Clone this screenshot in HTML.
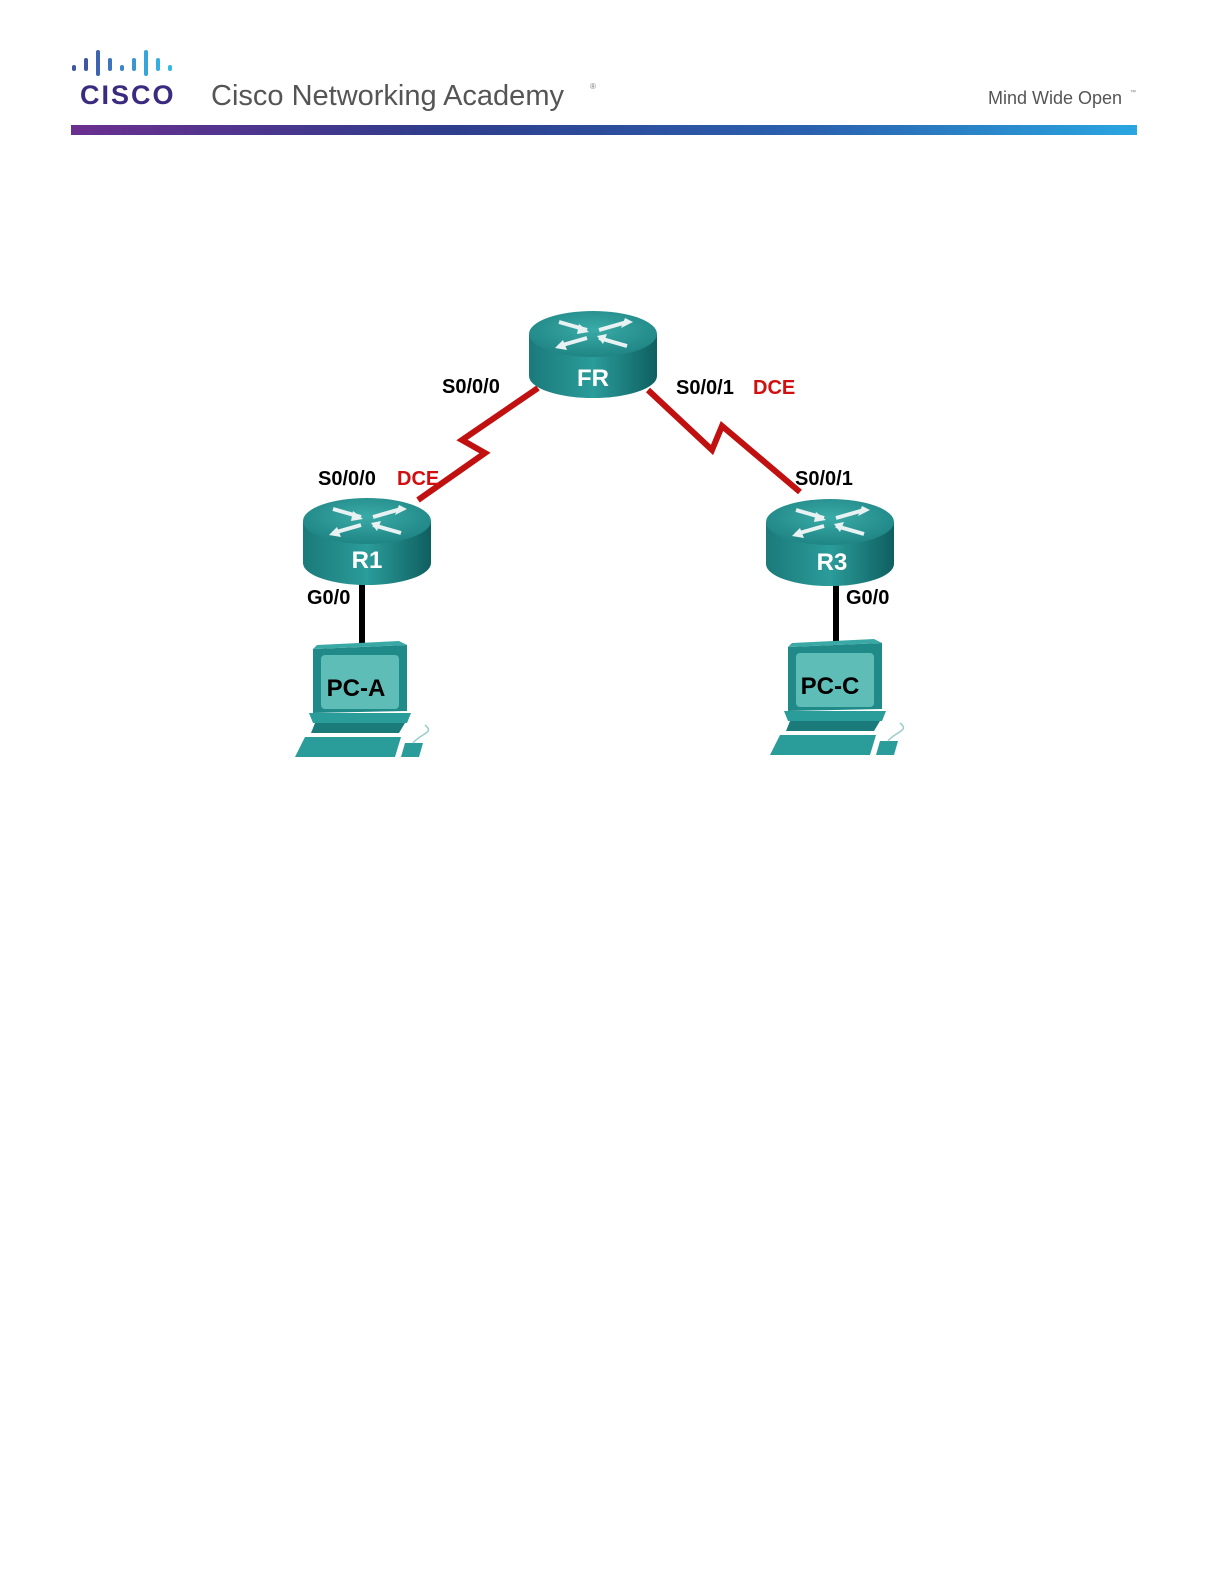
<!DOCTYPE html>
<html style="margin:0;padding:0;overflow:hidden"><head><meta charset="utf-8"><style>
html,body{margin:0;padding:0;background:#fff;width:1224px;height:1584px;overflow:hidden;font-family:"Liberation Sans",sans-serif}
svg{display:block;position:absolute;left:0;top:0}
</style></head><body>
<svg width="1224" height="1584" viewBox="0 0 1224 1584" xmlns="http://www.w3.org/2000/svg">
<defs>
<linearGradient id="bar" x1="0" x2="1"><stop offset="0" stop-color="#6b2f8f"/><stop offset="0.35" stop-color="#2e3d8c"/><stop offset="0.7" stop-color="#2a62b0"/><stop offset="1" stop-color="#2aa6e0"/></linearGradient>
<linearGradient id="side" x1="0" x2="1"><stop offset="0" stop-color="#1b7a7a"/><stop offset="0.5" stop-color="#2a9c9a"/><stop offset="1" stop-color="#0f5f60"/></linearGradient>
<radialGradient id="top" cx="0.5" cy="0.4" r="0.6"><stop offset="0" stop-color="#3aaba8"/><stop offset="1" stop-color="#1f8584"/></radialGradient>
<g id="rt">
<path d="M0,24 L0,66 A64,22 0 0 0 128,66 L128,24 Z" fill="url(#side)"/>
<ellipse cx="64" cy="24" rx="64" ry="23" fill="url(#top)"/>
<g stroke="#e8f2f2" stroke-width="4" fill="none">
<path d="M30,12 L58,20"/><path d="M98,12 L70,20"/><path d="M30,36 L58,28"/><path d="M98,36 L70,28"/>
</g>
<g fill="#e8f2f2"><path d="M60,22 L50,14 L48,24Z"/><path d="M96,8 L104,12 L92,18Z"/><path d="M26,38 L34,30 L38,40Z"/><path d="M68,26 L78,24 L74,34Z"/></g>
</g>
<g id="pc">
<path d="M18,4 L112,0 L112,66 L18,68 Z" fill="#1f8a88"/>
<path d="M18,4 L112,0 L104,-4 L22,0Z" fill="#3aa9a6"/>
<rect x="26" y="10" width="78" height="54" rx="4" fill="#5fbdb8"/>
<path d="M14,68 L116,68 L112,78 L18,78Z" fill="#2a9c9a"/>
<path d="M20,78 L110,78 L104,88 L16,88Z" fill="#1a7b7a"/>
<path d="M10,92 L106,92 L100,112 L0,112Z" fill="#2a9c9a"/>
<path d="M110,98 L128,98 L124,112 L106,112Z" fill="#2a9c9a"/>
<path d="M118,98 C126,88 140,88 130,80" stroke="#9cc" fill="none" stroke-width="1.5"/>
</g>
</defs>
<g>
<rect x="72" y="65" width="4" height="6" rx="2" fill="#3c55a5"/><rect x="84" y="58" width="4" height="13" rx="2" fill="#3c55a5"/>
<rect x="96" y="50" width="4" height="26" rx="2" fill="#3c64b0"/><rect x="108" y="58" width="4" height="13" rx="2" fill="#3d75bd"/>
<rect x="120" y="65" width="4" height="6" rx="2" fill="#3d85c8"/><rect x="132" y="58" width="4" height="13" rx="2" fill="#3a95d2"/>
<rect x="144" y="50" width="4" height="26" rx="2" fill="#36a5dc"/><rect x="156" y="58" width="4" height="13" rx="2" fill="#34b0e0"/>
<rect x="168" y="65" width="4" height="6" rx="2" fill="#33b8e4"/>
</g>
<text x="80" y="104" font-size="27" font-weight="bold" fill="#3a2a80" letter-spacing="2">CISCO</text>
<text x="211" y="105" font-size="29" fill="#555">Cisco Networking Academy</text>
<text x="590" y="89" font-size="8" fill="#777">®</text>
<text x="988" y="104" font-size="18" fill="#555">Mind Wide Open</text>
<text x="1130" y="94" font-size="6" fill="#777">™</text>
<rect x="71" y="125" width="1066" height="10" fill="url(#bar)"/>
<polyline points="538,388 462,440 485,453 418,500" fill="none" stroke="#c01010" stroke-width="6"/>
<polyline points="648,390 712,450 722,426 800,492" fill="none" stroke="#c01010" stroke-width="6"/>
<line x1="362" y1="575" x2="362" y2="646" stroke="#000" stroke-width="6"/>
<line x1="836" y1="575" x2="836" y2="644" stroke="#000" stroke-width="6"/>
<use href="#rt" x="529" y="310"/>
<use href="#rt" x="303" y="497"/>
<use href="#rt" x="766" y="498"/>
<use href="#pc" x="295" y="645"/>
<use href="#pc" x="770" y="643"/>
<g font-weight="bold" fill="#fff" font-size="24" text-anchor="middle">
<text x="593" y="386">FR</text><text x="367" y="568">R1</text><text x="832" y="570">R3</text>
</g>
<g font-weight="bold" fill="#000" font-size="24" text-anchor="middle">
<text x="356" y="696">PC-A</text><text x="830" y="694">PC-C</text>
</g>
<g font-weight="bold" font-size="20" fill="#000">
<text x="442" y="393">S0/0/0</text>
<text x="676" y="394">S0/0/1</text><text x="753" y="394" fill="#d01010">DCE</text>
<text x="318" y="485">S0/0/0</text><text x="397" y="485" fill="#d01010">DCE</text>
<text x="795" y="485">S0/0/1</text>
<text x="307" y="604">G0/0</text>
<text x="846" y="604">G0/0</text>
</g>
</svg>
</body></html>
